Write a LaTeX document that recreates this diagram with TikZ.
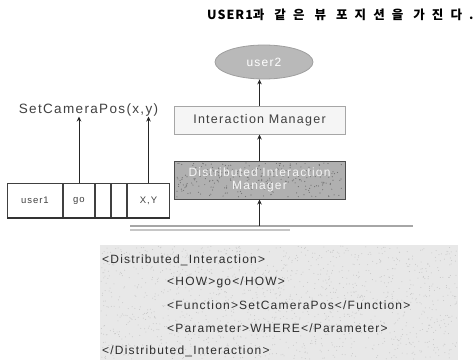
\documentclass[tikz,border=0pt]{standalone}
\usepackage{fontspec}
\setmainfont{Liberation Sans}
\newfontfamily\lblfont[LetterSpace=10]{Liberation Sans}
\newfontfamily\krfont[LetterSpace=57]{Noto Sans CJK KR}
\newfontfamily\krlatin[LetterSpace=8]{Noto Sans CJK KR}
\usetikzlibrary{shapes.geometric,arrows.meta}

\begin{document}
\begin{tikzpicture}[x=1pt,y=-1pt,
  arr/.style={-{Stealth[length=5pt,width=4.5pt]},black!85,line width=1pt},
  cell/.style={draw=black!75,line width=1pt,minimum height=34pt,inner sep=0pt,
    anchor=north west,font=\lblfont\fontsize{9.5}{11}\selectfont,text=black!75},
  lightbox/.style={draw=gray!70,line width=1pt,fill=gray!8,inner sep=0pt,
    font=\lblfont\fontsize{12.5}{13}\selectfont,text=black!75},
  darkbox/.style={draw=black!70,line width=1pt,fill=gray!62,inner sep=0pt,align=center,
    font=\lblfont\fontsize{12}{13}\selectfont,text=white!92!gray},
  xmltext/.style={anchor=west,inner sep=0pt,font=\lblfont\fontsize{12}{13}\selectfont,text=black!82}
]
\useasboundingbox (0,0) rectangle (476,361);

% heading
\node[anchor=west,inner sep=0pt,font=\bfseries\fontsize{12.5}{13}\selectfont] (title) at (207,15)
  {{\krlatin USER1}{\krfont 과 같은 뷰 포지션을 가진다.}};

% user2 and the manager stack
\node[ellipse,draw=gray!75,line width=0.8pt,fill=gray!55,minimum width=98pt,minimum height=34pt,
  font=\lblfont\fontsize{12}{13}\selectfont,text=white] (u2) at (264,62) {user2};
\node[lightbox,minimum width=171pt,minimum height=28pt] (im) at (259.5,120) {Interaction Manager};
\node[darkbox,minimum width=171pt,minimum height=38pt] (dim) at (259.5,180) {};
% grain on the dark box
\pgfmathsetseed{11}
\foreach \i in {1,...,260}{
  \fill[black!55] ({176+rnd*167},{163+rnd*34}) circle (0.6pt);
}
\node[darkbox,draw=none,fill=none] at (dim.center) {Distributed Interaction\\Manager};

% shared bus
\coordinate (busL) at (130,226);
\coordinate (busR) at (413,226);
\coordinate (busL2) at (130,230);
\coordinate (busR2) at (290,230);
\draw[gray!70,line width=2pt] (busL) -- (busR);
\draw[gray!45,line width=1.5pt] (busL2) -- (busR2);

\draw[arr] (dim.south |- busL) -- (dim.south);
\draw[arr] (dim.north) -- (im.south);
\draw[arr] (im.north) -- (im.north |- u2.south);

% message record of user1
\node[cell,minimum width=55pt] (c1) at (7,183) {user1};
\node[cell,minimum width=31pt] (c2) at (c1.north east) {go};
\node[cell,minimum width=15pt] (c3) at (c2.north east) {};
\node[cell,minimum width=15pt] (c4) at (c3.north east) {};
\node[cell,minimum width=42pt] (c5) at (c4.north east) {X,Y};
\draw[black!80,line width=1.8pt] (c1.south west) -- (c5.south east);

\node[inner sep=0pt,font=\lblfont\fontsize{13.5}{14}\selectfont,text=black!75] (fn) at (88.5,110) {SetCameraPos(x,y)};
\draw[arr] (c2.north) -- (c2.north |- fn.south);
\draw[arr] (c5.north) -- (c5.north |- fn.south);

% XML message on a grainy panel
\node[fill=gray!18,minimum width=358pt,minimum height=115pt,inner sep=0pt,anchor=north west] (xml) at (100,245) {};
\pgfmathsetseed{5}
\foreach \i in {1,...,1400}{
  \fill[gray!45] ({101+rnd*356},{246+rnd*113}) circle (0.5pt);
}
\node[xmltext] (x1) at (102,260) {<Distributed\_Interaction>};
\node[xmltext] (x2) at (167,282) {<HOW>go</HOW>};
\node[xmltext] (x3) at (167,305) {<Function>SetCameraPos</Function>};
\node[xmltext] (x4) at (167,328) {<Parameter>WHERE</Parameter>};
\node[xmltext] (x5) at (102,351) {</Distributed\_Interaction>};
\end{tikzpicture}
\end{document}
